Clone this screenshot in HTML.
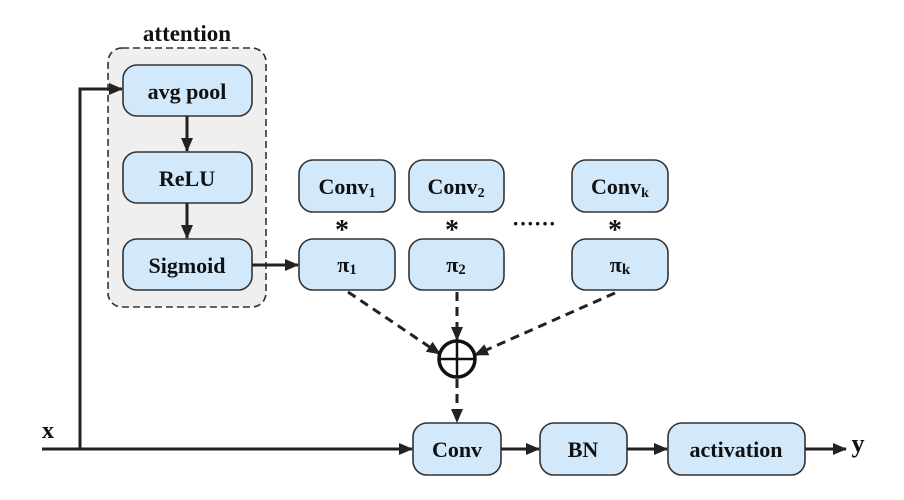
<!DOCTYPE html>
<html><head><meta charset="utf-8"><style>
html,body{margin:0;padding:0;background:#fff}
svg{display:block}
text{font-family:"Liberation Serif",serif;font-weight:bold;fill:#111;text-anchor:middle}
.b{fill:#d2e8fb;stroke:#333;stroke-width:1.6}
.l{stroke:#222;stroke-width:3;fill:none}
.d{stroke:#222;stroke-width:3;fill:none;stroke-dasharray:9,6}
</style></head><body>
<svg width="904" height="500" viewBox="0 0 904 500">
<defs><marker id="a" markerWidth="14" markerHeight="12" refX="13" refY="6" orient="auto" markerUnits="userSpaceOnUse"><path d="M0,0 L14,6 L0,12 z" fill="#222"/></marker></defs>
<rect x="108" y="48" width="158" height="259" rx="14" fill="#efefef" stroke="#333" stroke-width="1.6" stroke-dasharray="7,4"/>
<text x="187" y="41" font-size="23">attention</text>
<rect class="b" x="123" y="65" width="129" height="51" rx="14"/>
<text x="187" y="99" font-size="22">avg pool</text>
<rect class="b" x="123" y="152" width="129" height="51" rx="14"/>
<text x="187" y="186" font-size="22">ReLU</text>
<rect class="b" x="123" y="239" width="129" height="51" rx="14"/>
<text x="187" y="273" font-size="22">Sigmoid</text>
<line class="l" x1="187" y1="116" x2="187" y2="151" marker-end="url(#a)"/>
<line class="l" x1="187" y1="203" x2="187" y2="238" marker-end="url(#a)"/>
<polyline class="l" points="80,449 80,89 122,89" marker-end="url(#a)"/>
<line class="l" x1="42" y1="449" x2="412" y2="449" marker-end="url(#a)"/>
<text x="48" y="438" font-size="24">x</text>
<line class="l" x1="252" y1="265" x2="298" y2="265" marker-end="url(#a)"/>
<rect class="b" x="299" y="160" width="96" height="52" rx="14"/>
<text x="347" y="194" font-size="22">Conv<tspan font-size="14" dy="3">1</tspan></text>
<rect class="b" x="409" y="160" width="95" height="52" rx="14"/>
<text x="456" y="194" font-size="22">Conv<tspan font-size="14" dy="3">2</tspan></text>
<rect class="b" x="572" y="160" width="96" height="52" rx="14"/>
<text x="620" y="194" font-size="22">Conv<tspan font-size="14" dy="3">k</tspan></text>
<text x="342" y="239" font-size="28">*</text>
<text x="452" y="239" font-size="28">*</text>
<text x="615" y="239" font-size="28">*</text>
<text x="534" y="231" font-size="22">······</text>
<rect class="b" x="299" y="239" width="96" height="51" rx="14"/>
<text x="347" y="272" font-size="22">π<tspan font-size="15" dy="2">1</tspan></text>
<rect class="b" x="409" y="239" width="95" height="51" rx="14"/>
<text x="456" y="272" font-size="22">π<tspan font-size="15" dy="2">2</tspan></text>
<rect class="b" x="572" y="239" width="96" height="51" rx="14"/>
<text x="620" y="272" font-size="22">π<tspan font-size="15" dy="2">k</tspan></text>
<line class="d" x1="348" y1="292" x2="440" y2="354" marker-end="url(#a)"/>
<line class="d" x1="457" y1="292" x2="457" y2="340" marker-end="url(#a)"/>
<line class="d" x1="615" y1="293" x2="475" y2="355" marker-end="url(#a)"/>
<circle cx="457" cy="359" r="18" fill="#fff" stroke="#111" stroke-width="3.5"/>
<line x1="439" y1="359" x2="475" y2="359" stroke="#111" stroke-width="2.5"/>
<line x1="457" y1="341" x2="457" y2="377" stroke="#111" stroke-width="2.5"/>
<line class="d" x1="457" y1="379" x2="457" y2="422" marker-end="url(#a)"/>
<rect class="b" x="413" y="423" width="88" height="52" rx="14"/>
<text x="457" y="457" font-size="22">Conv</text>
<rect class="b" x="540" y="423" width="87" height="52" rx="14"/>
<text x="583" y="457" font-size="22">BN</text>
<rect class="b" x="668" y="423" width="137" height="52" rx="14"/>
<text x="736" y="457" font-size="22">activation</text>
<line class="l" x1="501" y1="449" x2="539" y2="449" marker-end="url(#a)"/>
<line class="l" x1="627" y1="449" x2="667" y2="449" marker-end="url(#a)"/>
<line class="l" x1="805" y1="449" x2="846" y2="449" marker-end="url(#a)"/>
<text x="858" y="452" font-size="26">y</text>
</svg>
</body></html>
